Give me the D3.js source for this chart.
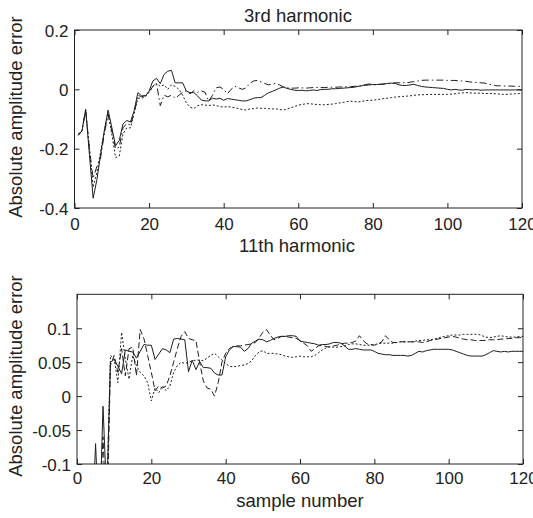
<!DOCTYPE html>
<html>
  <head>
    <meta charset="utf-8">
    <title>Absolute amplitude error</title>
    <script src="https://cdn.jsdelivr.net/npm/d3@7"></script>
    <style>
      body { margin: 0; background: #fff; }
      text { font-family: "Liberation Sans", Arial, sans-serif; fill: #222; }
    </style>
  </head>
  <body>
    <svg id="chart"></svg>
    <script>

    var width = 533
    var height = 518

    // sample numbers 1..120 (x) are the array index + 1
    var xTicks = [0, 20, 40, 60, 80, 100, 120]
    var topTicks = [-0.4, -0.2, 0, 0.2]
    var bottomTicks = [-0.1, -0.05, 0, 0.05, 0.1]

    // 3rd harmonic
    var thirdSolid = [-0.155,-0.14,-0.067,-0.22,-0.367,-0.305,-0.22,-0.14,-0.07,-0.128,
      -0.19,-0.172,-0.117,-0.105,-0.11,-0.072,-0.011,-0.022,-0.022,-0.006,
      0.028,0.037,0.019,0.05,0.061,0.064,0.022,0.022,0.022,-0.006,
      -0.011,-0.011,-0.022,-0.036,-0.039,-0.039,-0.03,-0.033,-0.03,-0.037,
      -0.031,-0.033,-0.035,-0.037,-0.039,-0.039,-0.035,-0.03,-0.028,-0.028,
      -0.02,-0.012,-0.007,-0.002,0.004,0.008,0.003,0,-0.003,-0.004,
      -0.003,-0.005,-0.004,-0.002,-0.004,-0.001,0,0,0.002,0.002,
      0.003,0.004,0.005,0.006,0.007,0.01,0.012,0.016,0.018,0.016,
      0.016,0.017,0.018,0.02,0.021,0.02,0.015,0.013,0.013,0.015,
      0.017,0.013,0.01,0.008,0.007,0.006,0.005,0.004,0.003,0,
      -0.002,0,-0.002,-0.003,0,-0.001,-0.002,-0.001,-0.003,-0.002,
      -0.002,-0.002,-0.002,-0.002,-0.002,-0.002,-0.002,-0.002,-0.002,-0.002]
    var thirdDashDot = [-0.155,-0.14,-0.07,-0.2,-0.3,-0.26,-0.23,-0.15,-0.085,-0.14,
      -0.2,-0.195,-0.13,-0.115,-0.12,-0.08,-0.02,-0.025,-0.02,-0.01,
      0.01,0.02,-0.055,-0.02,-0.025,-0.02,-0.03,-0.02,-0.01,-0.005,
      -0.015,-0.005,-0.01,-0.005,-0.01,-0.04,-0.02,0.005,0.008,0,
      -0.015,0,0.01,0.005,0,0.005,0.02,0.028,0.03,0.025,
      0.02,0.015,0.018,0.02,0.015,0.008,0.005,0.004,0.004,0.005,
      0.005,0.004,0.005,0.006,0.006,0.006,0.006,0.007,0.007,0.007,
      0.008,0.008,0.009,0.009,0.01,0.011,0.012,0.013,0.015,0.015,
      0.016,0.017,0.018,0.019,0.02,0.022,0.022,0.022,0.022,0.024,
      0.026,0.028,0.03,0.031,0.031,0.031,0.031,0.031,0.031,0.03,
      0.03,0.03,0.029,0.028,0.027,0.025,0.024,0.023,0.022,0.021,
      0.018,0.015,0.012,0.012,0.011,0.011,0.011,0.01,0.01,0.01]
    var thirdDotted = [-0.15,-0.14,-0.07,-0.2,-0.33,-0.28,-0.21,-0.14,-0.08,-0.15,
      -0.23,-0.225,-0.15,-0.13,-0.13,-0.08,-0.03,-0.03,-0.025,-0.01,
      0.01,0.02,0.01,0.015,0,0.015,0.01,0,-0.02,-0.045,
      -0.06,-0.065,-0.055,-0.052,-0.053,-0.055,-0.052,-0.055,-0.058,-0.06,
      -0.058,-0.06,-0.062,-0.065,-0.068,-0.07,-0.066,-0.065,-0.063,-0.064,
      -0.064,-0.065,-0.066,-0.066,-0.068,-0.07,-0.066,-0.062,-0.058,-0.053,
      -0.051,-0.049,-0.048,-0.05,-0.051,-0.052,-0.052,-0.051,-0.05,-0.048,
      -0.046,-0.044,-0.042,-0.04,-0.041,-0.043,-0.041,-0.038,-0.037,-0.037,
      -0.035,-0.033,-0.031,-0.03,-0.028,-0.026,-0.025,-0.024,-0.023,-0.022,
      -0.02,-0.019,-0.018,-0.018,-0.017,-0.017,-0.017,-0.017,-0.017,-0.017,
      -0.016,-0.015,-0.013,-0.012,-0.011,-0.012,-0.013,-0.013,-0.013,-0.014,
      -0.014,-0.014,-0.015,-0.016,-0.017,-0.017,-0.016,-0.015,-0.014,-0.014]

    // 11th harmonic
    var eleventhSolid = [-0.3,-0.28,-0.25,-0.2,-0.07,-0.2,-0.015,-0.15,0.05,0.054,
      0.044,0.033,0.068,0.066,0.065,0.056,0.066,0.076,0.075,0.075,
      0.054,0.062,0.07,0.068,0.064,0.084,0.085,0.084,0.083,0.036,
      0.053,0.039,0.051,0.042,0.042,0.041,0.034,0.031,0.031,0.058,
      0.068,0.073,0.073,0.072,0.066,0.07,0.078,0.081,0.084,0.083,
      0.08,0.082,0.085,0.087,0.088,0.088,0.089,0.089,0.088,0.081,
      0.08,0.079,0.078,0.077,0.075,0.076,0.076,0.077,0.079,0.079,
      0.078,0.074,0.069,0.069,0.07,0.069,0.068,0.068,0.068,0.066,
      0.063,0.062,0.061,0.061,0.06,0.06,0.06,0.06,0.059,0.06,
      0.063,0.066,0.065,0.067,0.068,0.069,0.069,0.069,0.069,0.069,
      0.068,0.066,0.064,0.062,0.06,0.059,0.059,0.059,0.059,0.061,
      0.064,0.067,0.066,0.065,0.066,0.065,0.066,0.066,0.066,0.066]
    var eleventhDashed = [-0.3,-0.28,-0.25,-0.22,-0.2,-0.18,-0.06,-0.2,0.045,0.06,
      0.035,0.07,0.03,0.07,0.072,0.03,0.098,0.085,0.06,0.035,
      0.008,0.015,0.012,0.015,0.03,0.05,0.07,0.088,0.095,0.085,
      0.083,0.082,0.05,0.022,0.012,0.01,0,0.02,0.05,0.063,
      0.07,0.073,0.074,0.074,0.075,0.076,0.077,0.079,0.086,0.094,
      0.098,0.09,0.083,0.085,0.088,0.088,0.087,0.086,0.085,0.082,
      0.078,0.074,0.066,0.07,0.074,0.075,0.073,0.072,0.074,0.075,
      0.077,0.078,0.078,0.079,0.081,0.089,0.082,0.077,0.076,0.075,
      0.077,0.08,0.089,0.083,0.079,0.079,0.08,0.08,0.08,0.08,
      0.08,0.08,0.079,0.08,0.082,0.083,0.084,0.085,0.086,0.087,
      0.088,0.087,0.085,0.084,0.083,0.083,0.082,0.082,0.082,0.082,
      0.083,0.083,0.083,0.084,0.084,0.085,0.085,0.086,0.086,0.087]
    var eleventhDotted = [-0.3,-0.28,-0.26,-0.24,-0.22,-0.2,-0.18,-0.15,0.06,0.055,
      0.02,0.094,0.055,0.025,0.06,0.045,0.035,0.03,0.02,-0.007,
      0.012,0.005,0.015,0.008,0.015,0.035,0.045,0.05,0.048,0.05,
      0.052,0.053,0.053,0.052,0.056,0.06,0.063,0.058,0.053,0.048,
      0.044,0.043,0.044,0.045,0.046,0.048,0.052,0.06,0.065,0.067,
      0.063,0.063,0.063,0.062,0.061,0.059,0.058,0.057,0.058,0.059,
      0.058,0.058,0.058,0.06,0.064,0.068,0.071,0.073,0.072,0.072,
      0.073,0.074,0.076,0.077,0.077,0.076,0.075,0.075,0.075,0.076,
      0.077,0.078,0.078,0.078,0.078,0.079,0.08,0.08,0.08,0.08,
      0.081,0.082,0.082,0.083,0.083,0.084,0.085,0.087,0.088,0.089,
      0.09,0.09,0.09,0.091,0.091,0.091,0.091,0.091,0.089,0.087,
      0.086,0.087,0.088,0.089,0.088,0.087,0.087,0.087,0.088,0.088]

    var svg = d3.select("#chart")
      .attr("width", width)
      .attr("height", height)

    function drawPanel(opts) {
      var x = d3.scaleLinear().domain([0, 120]).range([opts.left, opts.right])
      var y = d3.scaleLinear().domain(opts.yDomain).range([opts.bottom, opts.top])
      var g = svg.append("g")

      g.append("clipPath").attr("id", opts.id)
        .append("rect")
        .attr("x", opts.left).attr("y", opts.top)
        .attr("width", opts.right - opts.left).attr("height", opts.bottom - opts.top)

      var line = d3.line()
        .x(function(d, i) { return x(i + 1) })
        .y(function(d) { return y(d) })

      opts.series.forEach(function(s) {
        g.append("path")
          .attr("clip-path", "url(#" + opts.id + ")")
          .attr("d", line(s.values))
          .attr("fill", "none")
          .attr("stroke", "#1e1e1e")
          .attr("stroke-width", 1)
          .attr("stroke-dasharray", s.dash)
      })

      // inward ticks on all four sides, matlab style
      var fmt = function(d) { return String(d) }
      var bottomAxis = g.append("g").attr("transform", "translate(0," + opts.bottom + ")")
        .call(d3.axisBottom(x).tickValues(xTicks).tickSize(-5).tickPadding(10).tickFormat(fmt))
      var topAxis = g.append("g").attr("transform", "translate(0," + opts.top + ")")
        .call(d3.axisTop(x).tickValues(xTicks).tickSize(-5).tickFormat(""))
      var leftAxis = g.append("g").attr("transform", "translate(" + opts.left + ",0)")
        .call(d3.axisLeft(y).tickValues(opts.yTicks).tickSize(-5).tickPadding(6).tickFormat(fmt))
      var rightAxis = g.append("g").attr("transform", "translate(" + opts.right + ",0)")
        .call(d3.axisRight(y).tickValues(opts.yTicks).tickSize(-5).tickFormat(""))

      ;[bottomAxis, topAxis, leftAxis, rightAxis].forEach(function(a) {
        a.select(".domain").remove()
        a.selectAll("line").attr("stroke", "#222")
        a.selectAll("text").style("font-size", "17px").attr("fill", "#222")
          .attr("font-family", null)
      })
      bottomAxis.selectAll("text").attr("dy", null).attr("y", opts.tickBaseline - opts.bottom)
      leftAxis.selectAll("text").attr("dy", "0.36em")

      g.append("rect")
        .attr("x", opts.left).attr("y", opts.top)
        .attr("width", opts.right - opts.left).attr("height", opts.bottom - opts.top)
        .attr("fill", "none").attr("stroke", "#222").attr("stroke-width", 1)

      svg.append("text")
        .attr("transform", "translate(22," + opts.labelY + ") rotate(-90)")
        .attr("text-anchor", "middle")
        .style("font-size", "18.5px")
        .text("Absolute amplitude error")
    }

    drawPanel({
      id: "clipTop", left: 74.5, right: 522, top: 30, bottom: 208,
      yDomain: [-0.4, 0.2], yTicks: topTicks, tickBaseline: 230, labelY: 117,
      series: [
        { values: thirdSolid, dash: null },
        { values: thirdDashDot, dash: "7,3,1.5,3" },
        { values: thirdDotted, dash: "2,2" }
      ]
    })

    drawPanel({
      id: "clipBottom", left: 77, right: 523, top: 294.3, bottom: 464,
      yDomain: [-0.1, 0.15], yTicks: bottomTicks, tickBaseline: 483.5, labelY: 376,
      series: [
        { values: eleventhSolid, dash: null },
        { values: eleventhDashed, dash: "6,3" },
        { values: eleventhDotted, dash: "2,2" }
      ]
    })

    svg.append("text").attr("x", 298).attr("y", 21.5).attr("text-anchor", "middle")
      .style("font-size", "18.5px").text("3rd harmonic")
    svg.append("text").attr("x", 297).attr("y", 251.5).attr("text-anchor", "middle")
      .style("font-size", "18.5px").text("11th harmonic")
    svg.append("text").attr("x", 300).attr("y", 507).attr("text-anchor", "middle")
      .style("font-size", "18.5px").text("sample number")

    </script>
  </body>
</html>
